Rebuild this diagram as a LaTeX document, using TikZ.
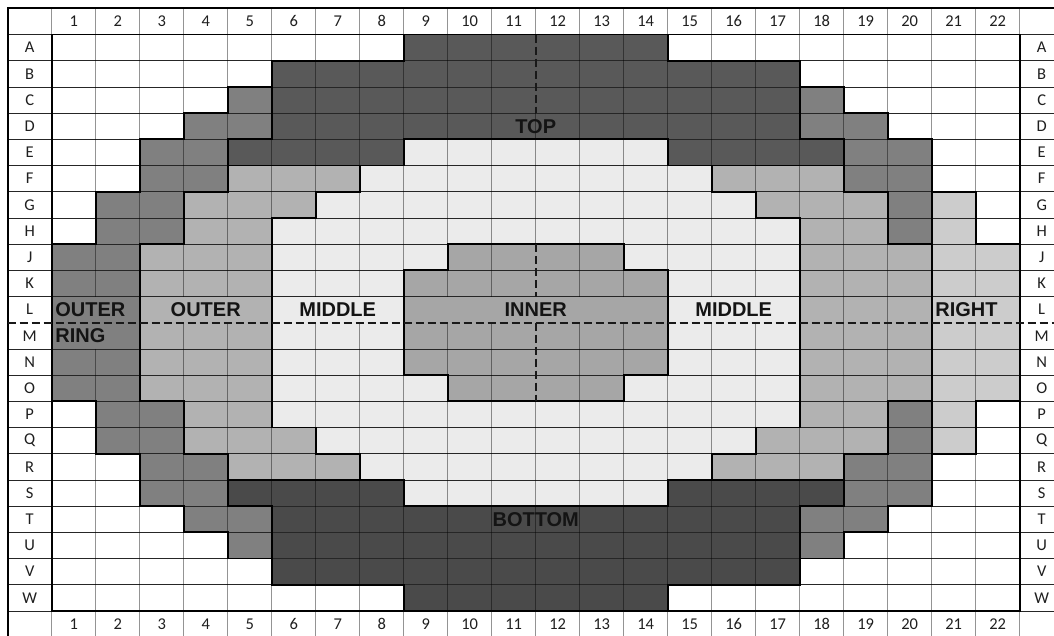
\documentclass[tikz,border=0pt]{standalone}
\usepackage{fontspec}
\newfontfamily\lblfont{Carlito}
\newfontfamily\wordfont{Liberation Sans}
\definecolor{code0}{HTML}{FFFFFF}
\definecolor{code1}{HTML}{595959}
\definecolor{code2}{HTML}{4A4A4A}
\definecolor{code3}{HTML}{808080}
\definecolor{code4}{HTML}{B2B2B2}
\definecolor{code5}{HTML}{EBEBEB}
\definecolor{code6}{HTML}{A6A6A6}
\definecolor{code7}{HTML}{CCCCCC}
\definecolor{code9}{HTML}{FFFFFF}
% grid codes: 0 white, 1 top, 2 bottom, 3 outer ring, 4 outer, 5 middle, 6 inner, 7 right, 9 labels
\expandafter\def\csname R0\endcsname{{9,9,9,9,9,9,9,9,9,9,9,9,9,9,9,9,9,9,9,9,9,9,9,9}}
\expandafter\def\csname R1\endcsname{{9,0,0,0,0,0,0,0,0,1,1,1,1,1,1,0,0,0,0,0,0,0,0,9}}
\expandafter\def\csname R2\endcsname{{9,0,0,0,0,0,1,1,1,1,1,1,1,1,1,1,1,1,0,0,0,0,0,9}}
\expandafter\def\csname R3\endcsname{{9,0,0,0,0,3,1,1,1,1,1,1,1,1,1,1,1,1,3,0,0,0,0,9}}
\expandafter\def\csname R4\endcsname{{9,0,0,0,3,3,1,1,1,1,1,1,1,1,1,1,1,1,3,3,0,0,0,9}}
\expandafter\def\csname R5\endcsname{{9,0,0,3,3,1,1,1,1,5,5,5,5,5,5,1,1,1,1,3,3,0,0,9}}
\expandafter\def\csname R6\endcsname{{9,0,0,3,3,4,4,4,5,5,5,5,5,5,5,5,4,4,4,3,3,0,0,9}}
\expandafter\def\csname R7\endcsname{{9,0,3,3,4,4,4,5,5,5,5,5,5,5,5,5,5,4,4,4,3,7,0,9}}
\expandafter\def\csname R8\endcsname{{9,0,3,3,4,4,5,5,5,5,5,5,5,5,5,5,5,5,4,4,3,7,0,9}}
\expandafter\def\csname R9\endcsname{{9,3,3,4,4,4,5,5,5,5,6,6,6,6,5,5,5,5,4,4,4,7,7,9}}
\expandafter\def\csname R10\endcsname{{9,3,3,4,4,4,5,5,5,6,6,6,6,6,6,5,5,5,4,4,4,7,7,9}}
\expandafter\def\csname R11\endcsname{{9,3,3,4,4,4,5,5,5,6,6,6,6,6,6,5,5,5,4,4,4,7,7,9}}
\expandafter\def\csname R12\endcsname{{9,3,3,4,4,4,5,5,5,6,6,6,6,6,6,5,5,5,4,4,4,7,7,9}}
\expandafter\def\csname R13\endcsname{{9,3,3,4,4,4,5,5,5,6,6,6,6,6,6,5,5,5,4,4,4,7,7,9}}
\expandafter\def\csname R14\endcsname{{9,3,3,4,4,4,5,5,5,5,6,6,6,6,5,5,5,5,4,4,4,7,7,9}}
\expandafter\def\csname R15\endcsname{{9,0,3,3,4,4,5,5,5,5,5,5,5,5,5,5,5,5,4,4,3,7,0,9}}
\expandafter\def\csname R16\endcsname{{9,0,3,3,4,4,4,5,5,5,5,5,5,5,5,5,5,4,4,4,3,7,0,9}}
\expandafter\def\csname R17\endcsname{{9,0,0,3,3,4,4,4,5,5,5,5,5,5,5,5,4,4,4,3,3,0,0,9}}
\expandafter\def\csname R18\endcsname{{9,0,0,3,3,2,2,2,2,5,5,5,5,5,5,2,2,2,2,3,3,0,0,9}}
\expandafter\def\csname R19\endcsname{{9,0,0,0,3,3,2,2,2,2,2,2,2,2,2,2,2,2,3,3,0,0,0,9}}
\expandafter\def\csname R20\endcsname{{9,0,0,0,0,3,2,2,2,2,2,2,2,2,2,2,2,2,3,0,0,0,0,9}}
\expandafter\def\csname R21\endcsname{{9,0,0,0,0,0,2,2,2,2,2,2,2,2,2,2,2,2,0,0,0,0,0,9}}
\expandafter\def\csname R22\endcsname{{9,0,0,0,0,0,0,0,0,2,2,2,2,2,2,0,0,0,0,0,0,0,0,9}}
\expandafter\def\csname R23\endcsname{{9,9,9,9,9,9,9,9,9,9,9,9,9,9,9,9,9,9,9,9,9,9,9,9}}
\newcommand\getcode[3]{\expandafter\let\expandafter\tmprow\csname R#2\endcsname\pgfmathtruncatemacro#1{\tmprow[#3]}}
\def\GX{7.7}\def\GY{8.3}\def\CW{44}\def\RH{26.2}
\tikzset{
  hthin/.style={draw=black!85, line width=0.8pt},
  vthin/.style={draw=black, draw opacity=0.42, line width=0.8pt},
  bound/.style={draw=black, line width=1.9pt, line cap=rect},
  dashline/.style={draw=black!90, line width=1.9pt, dash pattern=on 8pt off 4pt},
  lbl/.style={font=\lblfont\fontsize{16.5}{16.5}\selectfont, text=black!88, inner sep=0pt},
  word/.style={font=\wordfont\bfseries\fontsize{20}{20}\selectfont, text=black!92, inner sep=0pt}
}
\begin{document}
\begin{tikzpicture}[x=1pt,y=-1pt]
\useasboundingbox (0,0) rectangle (1054,635);
% fills
\foreach \r in {0,...,23}{\foreach \c in {0,...,23}{
  \getcode\cc{\r}{\c}
  \fill[code\cc] ({\GX+\c*\CW},{\GY+\r*\RH}) rectangle ({\GX+(\c+1)*\CW},{\GY+(\r+1)*\RH});
}}
% thin horizontal lines
\foreach \r in {1,...,23}{
  \ifnum\r=12 \else
  \draw[hthin] (\GX,{\GY+\r*\RH}) -- ({\GX+24*\CW},{\GY+\r*\RH});
  \fi
}
% thin vertical lines
\foreach \c in {1,...,23}{\foreach \r in {0,...,23}{
  \pgfmathtruncatemacro\skipit{((\r==11) && ((\c==2)||(\c==4)||(\c==5)||(\c==7)||(\c==8)||((\c>=10)&&(\c<=14))||(\c==16)||(\c==17)||(\c==22))) || ((\r==12)&&(\c==2)) || ((\c==12)&&(((\r>=1)&&(\r<=3))||((\r>=9)&&(\r<=14))))}
  \ifnum\skipit=0
  \draw[vthin] ({\GX+\c*\CW},{\GY+\r*\RH}) -- ({\GX+\c*\CW},{\GY+(\r+1)*\RH});
  \fi
}}
% region boundaries
\foreach \r in {0,...,23}{\foreach \c in {0,...,23}{
  \getcode\ca{\r}{\c}
  \ifnum\c<23
    \pgfmathtruncatemacro\cn{\c+1}\getcode\cb{\r}{\cn}
    \ifnum\ca=\cb\else
      \draw[bound] ({\GX+(\c+1)*\CW},{\GY+\r*\RH}) -- ({\GX+(\c+1)*\CW},{\GY+(\r+1)*\RH});
    \fi
  \fi
  \ifnum\r<23
    \pgfmathtruncatemacro\rn{\r+1}\getcode\cb{\rn}{\c}
    \ifnum\ca=\cb\else
      \draw[bound] ({\GX+\c*\CW},{\GY+(\r+1)*\RH}) -- ({\GX+(\c+1)*\CW},{\GY+(\r+1)*\RH});
    \fi
  \fi
}}
% outer border
\draw[bound] (\GX,\GY) rectangle ({\GX+24*\CW},{\GY+24*\RH});
% dashed lines
\coordinate (dA) at ({\GX+12*\CW},{\GY+1*\RH});
\coordinate (dD) at ({\GX+12*\CW},{\GY+4*\RH});
\coordinate (dJ) at ({\GX+12*\CW},{\GY+9*\RH});
\coordinate (dL) at ({\GX+12*\CW},{\GY+11*\RH});
\coordinate (dM) at ({\GX+12*\CW},{\GY+12*\RH});
\coordinate (dO) at ({\GX+12*\CW},{\GY+15*\RH});
\coordinate (hL) at (\GX,{\GY+12*\RH});
\coordinate (hR) at ({\GX+24*\CW},{\GY+12*\RH});
\draw[dashline] (dA) -- (dD);
\draw[dashline] (dJ) -- (dL);
\draw[dashline] (dM) -- (dO);
\draw[dashline] (hL) -- (hR);
% column labels
\foreach \n in {1,...,22}{
  \node[lbl] (h\n) at ({\GX+(\n+0.5)*\CW},{\GY+0.5*\RH}) {\n};
  \node[lbl] (f\n) at ({\GX+(\n+0.5)*\CW},{\GY+23.5*\RH}) {\n};
}
% row labels
\foreach \L [count=\i] in {A,B,C,D,E,F,G,H,J,K,L,M,N,O,P,Q,R,S,T,U,V,W}{
  \node[lbl] (l\L) at ({\GX+0.5*\CW},{\GY+(\i+0.5)*\RH}) {\L};
  \node[lbl] (r\L) at ({\GX+23.5*\CW},{\GY+(\i+0.5)*\RH}) {\L};
}
% region words
\node[word, anchor=west] (outerring) at ({\GX+\CW+3.5},{\GY+11.5*\RH}) {OUTER};
\node[word, anchor=west] (ring) at ({\GX+\CW+3.5},{\GY+12.5*\RH}) {RING};
\node[word] (outer) at ({\GX+4.5*\CW},{\GY+11.5*\RH}) {OUTER};
\node[word] (middleL) at ({\GX+7.5*\CW},{\GY+11.5*\RH}) {MIDDLE};
\node[word] (inner) at ({\GX+12*\CW},{\GY+11.5*\RH}) {INNER};
\node[word] (middleR) at ({\GX+16.5*\CW},{\GY+11.5*\RH}) {MIDDLE};
\node[word, anchor=west] (right) at ({\GX+21*\CW+3.5},{\GY+11.5*\RH}) {RIGHT};
\node[word] (top) at ({\GX+12*\CW},{\GY+4.5*\RH}) {TOP};
\node[word] (bottom) at ({\GX+12*\CW},{\GY+19.5*\RH}) {BOTTOM};
\end{tikzpicture}
\end{document}
